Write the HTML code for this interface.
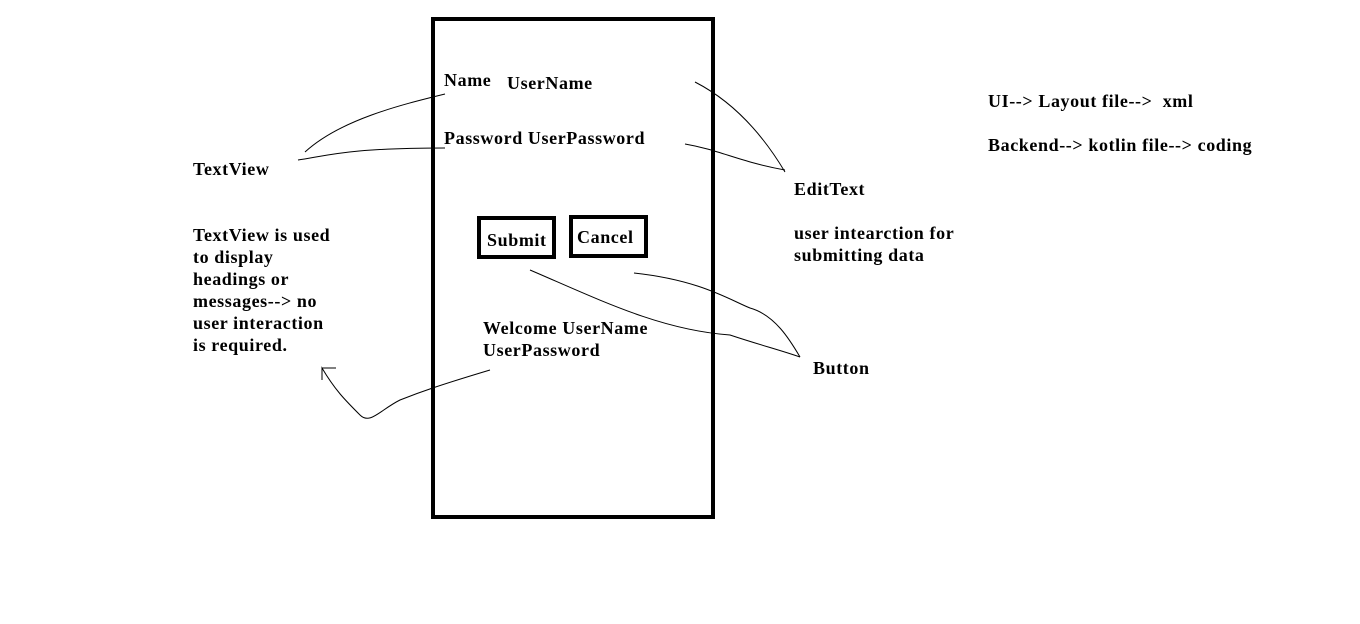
<!DOCTYPE html>
<html><head><style>
body{margin:0;width:1360px;height:624px;background:#fff;position:relative;overflow:hidden;font-family:"Liberation Serif",serif;font-weight:bold;font-size:18px;letter-spacing:0.6px;color:#000}
.t{position:absolute;line-height:22px;white-space:nowrap}
.b{position:absolute;border:4px solid #000;box-sizing:border-box}
svg{position:absolute;left:0;top:0}
</style></head><body>
<div class="b" style="left:431px;top:17px;width:284px;height:502px;border-width:4px"></div>
<div class="b" style="left:477px;top:216px;width:79px;height:43px"></div>
<div class="b" style="left:569px;top:215px;width:79px;height:43px"></div>
<div class="t" style="left:444px;top:69px">Name</div>
<div class="t" style="left:507px;top:72px">UserName</div>
<div class="t" style="left:444px;top:127px">Password UserPassword</div>
<div class="t" style="left:487px;top:229px">Submit</div>
<div class="t" style="left:577px;top:226px">Cancel</div>
<div class="t" style="left:483px;top:317px">Welcome UserName<br>UserPassword</div>
<div class="t" style="left:193px;top:158px">TextView</div>
<div class="t" style="left:193px;top:224px">TextView is used<br>to display<br>headings or<br>messages--&gt; no<br>user interaction<br>is required.</div>
<div class="t" style="left:794px;top:178px">EditText</div>
<div class="t" style="left:794px;top:222px">user intearction for<br>submitting data</div>
<div class="t" style="left:813px;top:357px">Button</div>
<div class="t" style="left:988px;top:90px">UI--&gt; Layout file--&gt;&nbsp; xml</div>
<div class="t" style="left:988px;top:134px">Backend--&gt; kotlin file--&gt; coding</div>
<svg width="1360" height="624" fill="none" stroke="#000" stroke-width="1">
<path d="M445 94 C400 105 340 120 305 152"/>
<path d="M298 160 C330 155 350 148 445 148"/>
<path d="M695 82 C730 100 760 130 785 172"/>
<path d="M685 144 C720 150 740 162 785 170"/>
<path d="M530 270 C600 300 660 330 730 335 C760 345 780 350 800 357"/>
<path d="M634 273 C700 280 730 300 750 308 C775 315 790 340 800 357"/>
<path d="M490 370 C440 385 420 392 400 400 C380 410 370 425 360 415 C345 400 335 390 322 368 L322 380 M322 368 L336 368"/>
</svg>
</body></html>
